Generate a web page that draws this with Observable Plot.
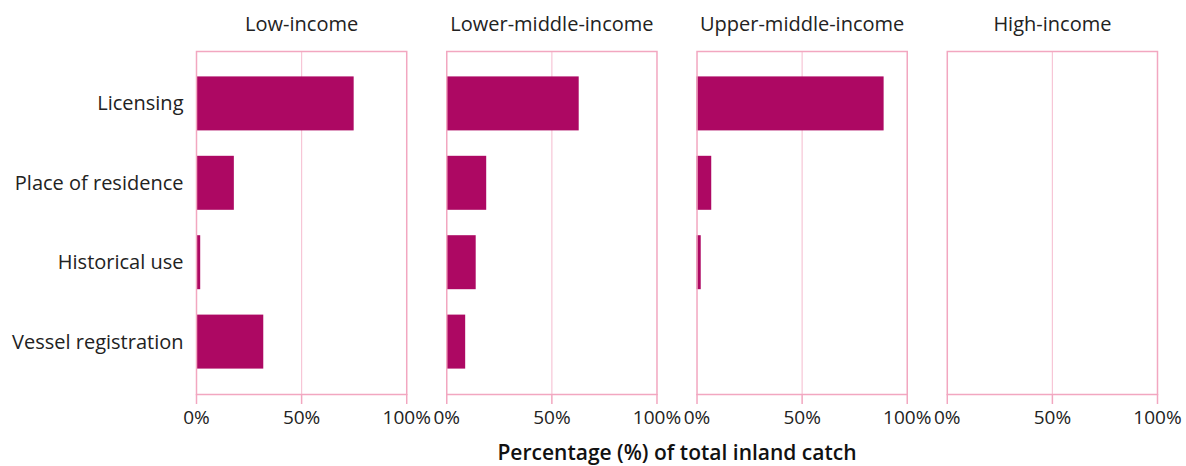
<!DOCTYPE html>
<html>
<head>
<meta charset="utf-8">
<script src="https://cdn.jsdelivr.net/npm/d3@7"></script>
<script src="https://cdn.jsdelivr.net/npm/@observablehq/plot@0.6"></script>
<style>
  html, body { margin: 0; padding: 0; background: #fff; }
  #chart svg { font-family: "Open Sans", sans-serif; }
  #chart [aria-label="x-axis label"] text { font-size: 21px; font-weight: 600; fill: #111; }
</style>
</head>
<body>
<div id="chart"></div>
<script>
const groups = ["Low-income", "Lower-middle-income", "Upper-middle-income", "High-income"];
const categories = ["Licensing", "Place of residence", "Historical use", "Vessel registration"];
const lowIncome = [75, 18, 2, 32];
const lowerMiddleIncome = [63, 19, 14, 9];
const upperMiddleIncome = [89, 7, 2, 0];
const highIncome = [0, 0, 0, 0];
const xTicks = [0, 50, 100];

const seriesByGroup = [lowIncome, lowerMiddleIncome, upperMiddleIncome, highIncome];
const data = [];
groups.forEach((g, gi) => {
  categories.forEach((c, ci) => {
    data.push({group: g, category: c, value: seriesByGroup[gi][ci]});
  });
});

const pink = "#f2a7c0";
const lightPink = "#f7c6d6";
const barColor = "#ad0863";
const textColor = "#222";

const chart = Plot.plot({
  width: 1186,
  height: 466,
  marginLeft: 196,
  marginRight: 29,
  marginTop: 51,
  marginBottom: 72,
  style: {fontSize: "19px", color: textColor, background: "#fff"},
  fx: {domain: groups, paddingInner: 0.16, paddingOuter: 0, round: false, label: null},
  x: {domain: [0, 100], label: "Percentage (%) of total inland catch"},
  y: {domain: categories, padding: 0.32, round: false, label: null},
  marks: [
    Plot.ruleX([50], {stroke: lightPink, strokeWidth: 1.2}),
    Plot.barX(data, {fx: "group", y: "category", x: "value", fill: barColor}),
    Plot.frame({stroke: pink, strokeWidth: 1.5}),
    Plot.axisX({ticks: xTicks, tickFormat: d => d + "%", tickSize: 10, tickPadding: 6, fontSize: 19, stroke: pink, strokeWidth: 1.5, strokeOpacity: 1, fill: textColor, label: "Percentage (%) of total inland catch", labelAnchor: "center", labelOffset: 65, labelArrow: "none"}),
    Plot.axisY({tickSize: 0, tickPadding: 13, fontSize: 20, fill: textColor, label: null}),
    Plot.axisFx({anchor: "top", tickSize: 0, tickPadding: 21, fontSize: 20, fill: textColor, label: null})
  ]
});
document.getElementById("chart").appendChild(chart);
</script>
</body>
</html>
